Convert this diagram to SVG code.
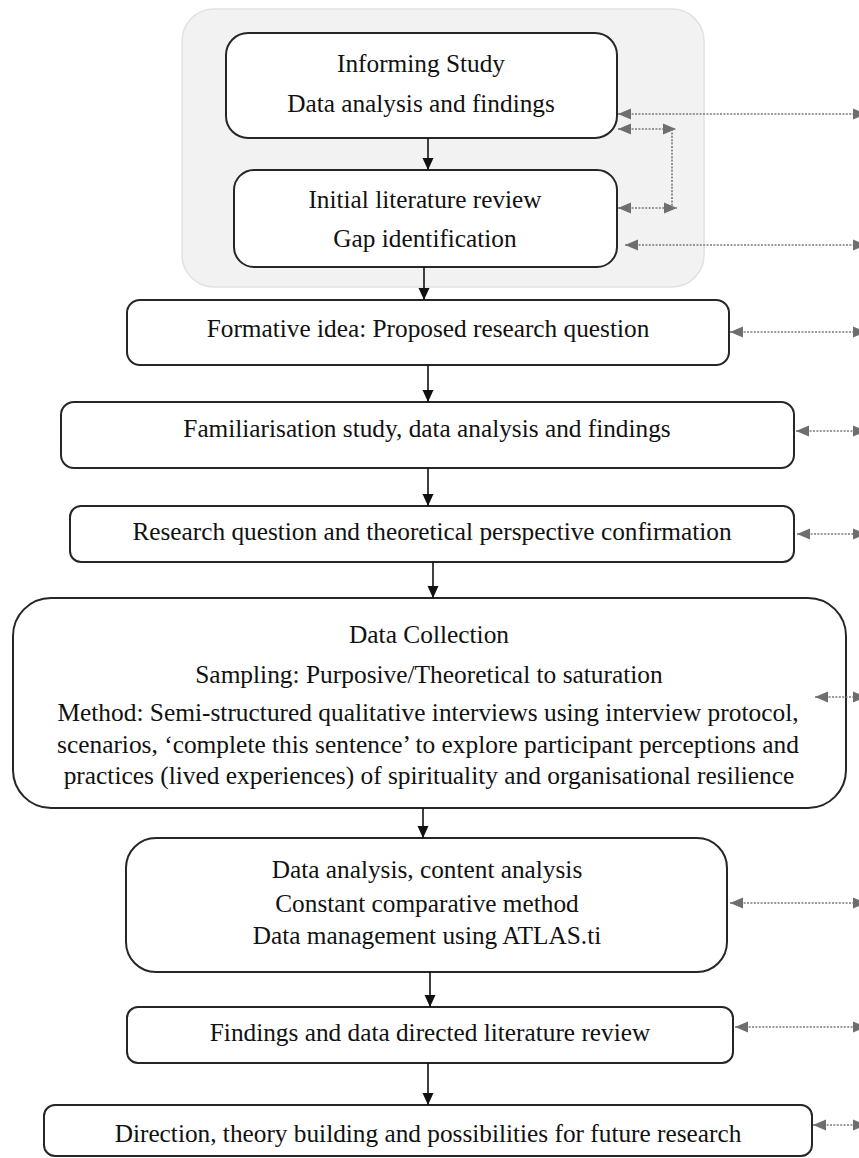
<svg xmlns="http://www.w3.org/2000/svg" width="859" height="1158" viewBox="0 0 859 1158">
  <style>
    .box { fill: #ffffff; stroke: #262626; stroke-width: 2; }
    .label { font-family: "Liberation Serif", "Times New Roman", serif; font-size: 25.3px; fill: #111111; text-anchor: middle; }
    .dc { font-size: 25.4px; }
    .flow { stroke: #111111; stroke-width: 1.6; fill: none; marker-end: url(#blackHead); }
    .link { stroke: #7a7a7a; stroke-width: 1.6; stroke-dasharray: 2 1.4; fill: none; marker-start: url(#grayHead); marker-end: url(#grayHead); }
    .linkPlain { stroke: #7a7a7a; stroke-width: 1.6; stroke-dasharray: 2 1.4; fill: none; }
  </style>
  <defs>
    <marker id="blackHead" markerUnits="userSpaceOnUse" markerWidth="12" markerHeight="12" viewBox="0 0 12 12" refX="12" refY="6" orient="auto">
      <path d="M0,0.5 L12,6 L0,11.5 Z" fill="#111111"/>
    </marker>
    <marker id="grayHead" markerUnits="userSpaceOnUse" markerWidth="13" markerHeight="12" viewBox="0 0 13 12" refX="13" refY="6" orient="auto-start-reverse">
      <path d="M0,0.5 L13,6 L0,11.5 Z" fill="#6e6e6e"/>
    </marker>
  </defs>

  <!-- shaded panel grouping the informing study stages -->
  <rect id="panel" x="182" y="9" width="522" height="278" rx="32" fill="#f2f2f2" stroke="#e2e2e2" stroke-width="1.5"/>

  <g id="informing-study">
    <rect class="box" x="226" y="33" width="391" height="105" rx="22"/>
    <text class="label" x="421" y="72">Informing Study</text>
    <text class="label" x="421" y="112">Data analysis and findings</text>
  </g>

  <g id="initial-review">
    <rect class="box" x="234" y="170" width="383" height="97" rx="20"/>
    <text class="label" x="425" y="208">Initial literature review</text>
    <text class="label" x="425" y="247">Gap identification</text>
  </g>

  <g id="formative-idea">
    <rect class="box" x="127" y="300" width="602" height="65" rx="13"/>
    <text class="label" x="428" y="337">Formative idea: Proposed research question</text>
  </g>

  <g id="familiarisation">
    <rect class="box" x="61" y="402" width="733" height="66" rx="13"/>
    <text class="label" x="427" y="437">Familiarisation study, data analysis and findings</text>
  </g>

  <g id="confirmation">
    <rect class="box" x="70" y="506" width="724" height="56" rx="11"/>
    <text class="label" x="432" y="540">Research question and theoretical perspective confirmation</text>
  </g>

  <g id="data-collection">
    <rect class="box" x="13" y="598" width="833" height="210" rx="38"/>
    <text class="label dc" x="429" y="643">Data Collection</text>
    <text class="label dc" x="429" y="683">Sampling: Purposive/Theoretical to saturation</text>
    <text class="label dc" x="428" y="721">Method: Semi-structured qualitative interviews using interview protocol,</text>
    <text class="label dc" x="428" y="753">scenarios, ‘complete this sentence’ to explore participant perceptions and</text>
    <text class="label dc" x="429" y="784">practices (lived experiences) of spirituality and organisational resilience</text>
  </g>

  <g id="data-analysis">
    <rect class="box" x="126" y="838" width="601" height="134" rx="30"/>
    <text class="label" x="427" y="878">Data analysis, content analysis</text>
    <text class="label" x="427" y="912">Constant comparative method</text>
    <text class="label" x="427" y="944">Data management using ATLAS.ti</text>
  </g>

  <g id="findings-review">
    <rect class="box" x="127" y="1007" width="606" height="56" rx="11"/>
    <text class="label" x="430" y="1041">Findings and data directed literature review</text>
  </g>

  <g id="direction">
    <rect class="box" x="44" y="1105" width="768" height="51" rx="11"/>
    <text class="label" x="428" y="1142">Direction, theory building and possibilities for future research</text>
  </g>

  <g id="connectors">
    <!-- main sequence -->
    <line class="flow" x1="428" y1="138" x2="428" y2="170"/>
    <line class="flow" x1="424" y1="267" x2="424" y2="300"/>
    <line class="flow" x1="428" y1="365" x2="428" y2="402"/>
    <line class="flow" x1="428" y1="468" x2="428" y2="506"/>
    <line class="flow" x1="433" y1="562" x2="433" y2="598"/>
    <line class="flow" x1="423" y1="808" x2="423" y2="838"/>
    <line class="flow" x1="430" y1="972" x2="430" y2="1007"/>
    <line class="flow" x1="428" y1="1063" x2="428" y2="1105"/>

    <!-- feedback between the informing study and the initial review -->
    <line class="link" x1="618" y1="129" x2="676" y2="129"/>
    <line class="link" x1="618" y1="208" x2="677" y2="208"/>
    <line class="linkPlain" x1="672" y1="129" x2="672" y2="208"/>

    <!-- two-way links running off to the right -->
    <line class="link" x1="618" y1="114" x2="866" y2="114"/>
    <line class="link" x1="625" y1="245" x2="866" y2="245"/>
    <line class="link" x1="730" y1="332" x2="866" y2="332"/>
    <line class="link" x1="796" y1="431" x2="866" y2="431"/>
    <line class="link" x1="797" y1="534" x2="866" y2="534"/>
    <line class="link" x1="815" y1="697" x2="866" y2="697"/>
    <line class="link" x1="730" y1="903" x2="866" y2="903"/>
    <line class="link" x1="735" y1="1027" x2="866" y2="1027"/>
    <line class="link" x1="813" y1="1125" x2="866" y2="1125"/>
  </g>
</svg>
